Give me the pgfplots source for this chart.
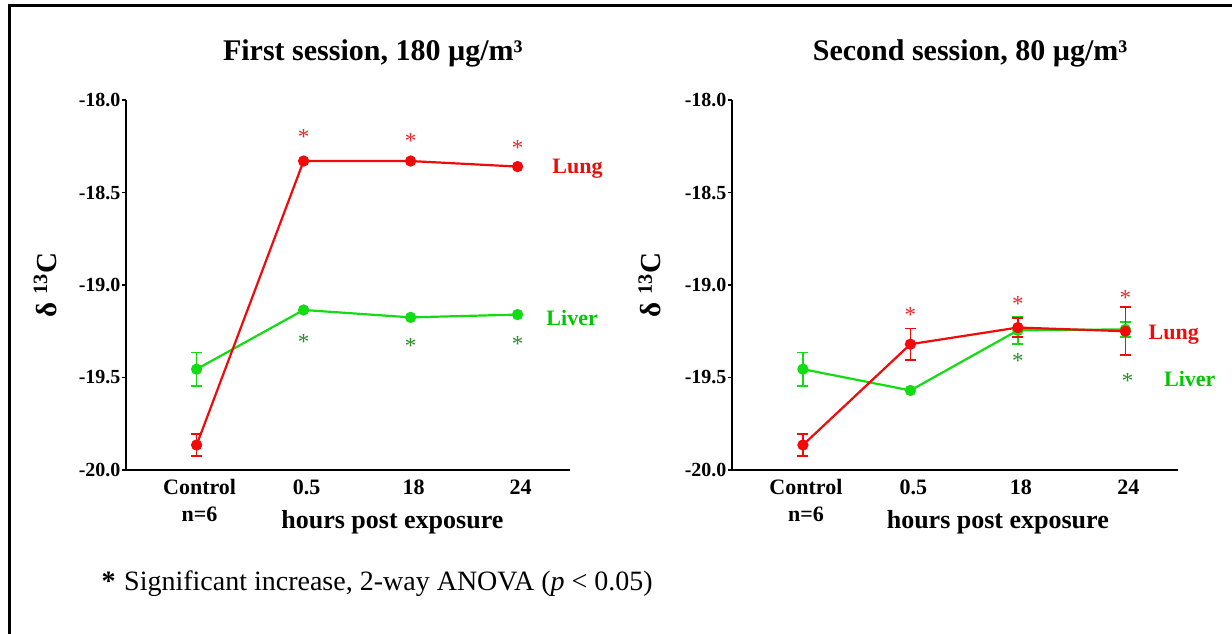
\documentclass[border=0pt]{standalone}
\usepackage{pgfplots}
\pgfplotsset{compat=1.18}
\usepackage{fontspec}
\setmainfont{Liberation Serif}
\definecolor{lungred}{RGB}{240,10,10}
\definecolor{livergreen}{RGB}{20,220,20}
\definecolor{liverlab}{RGB}{0,200,0}
\definecolor{starred}{RGB}{235,40,40}
\definecolor{stargreen}{RGB}{40,140,40}
\newcommand\fs[1]{\fontsize{#1}{1.2\dimexpr#1pt\relax}\selectfont}
\tikzset{sig/.style={font=\fs{23}}}
\pgfplotsset{
  panel/.style={
    scale only axis, height=370pt,
    ymin=-20, ymax=-18, xmin=-0.66, xmax=3.49,
    axis x line*=bottom, axis y line*=left,
    axis line style={line width=1.6pt, -},
    ytick={-20,-19.5,-19,-18.5,-18},
    yticklabels={-20.0,-19.5,-19.0,-18.5,-18.0},
    yticklabel style={font=\bfseries\fs{20}, xshift=2pt},
    xtick={0,1,2,3},
    xticklabels={{Control\\n=6},0.5,18,24},
    xticklabel style={font=\bfseries\fontsize{22}{27}\selectfont, align=center, xshift=3pt, yshift=-2pt},
    x tick style={draw=none},
    y tick style={line width=1.2pt, black},
    tick align=outside, major tick length=4pt,
    clip=false,
    every axis plot/.append style={line width=2.2pt, mark=*, mark size=4.5pt},
    error bars/y dir=both, error bars/y explicit,
    error bars/error mark options={rotate=90, mark size=5.5pt, line width=1.6pt},
  },
  lung/.style={color=lungred, mark options={fill=lungred, draw=lungred},
    error bars/error bar style={line width=1.6pt, color=lungred}},
  liver/.style={color=livergreen, mark options={fill=livergreen, draw=livergreen},
    error bars/error bar style={line width=1.6pt, color=livergreen}},
}
\begin{document}
\begin{tikzpicture}
\path[use as bounding box] (0,0) rectangle (1232pt,634pt);
\draw[line width=3pt] (9pt,0) -- (9pt,628pt) -- (1232pt,628pt);

% first session
\begin{axis}[panel, width=444pt, at={(126pt,164pt)}, anchor=south west]
\addplot[liver] coordinates {(0,-19.455) +- (0,0.09) (1,-19.135) +- (0,0) (2,-19.175) +- (0,0) (3,-19.16) +- (0,0)};
\addplot[lung] coordinates {(0,-19.865) +- (0,0.06) (1,-18.33) +- (0,0) (2,-18.33) +- (0,0) (3,-18.36) +- (0,0)};
\node[starred, sig] at (axis cs:1,-18.20) {*};
\node[starred, sig] at (axis cs:2,-18.22) {*};
\node[starred, sig] at (axis cs:3,-18.26) {*};
\node[stargreen, sig] at (axis cs:1,-19.31) {*};
\node[stargreen, sig] at (axis cs:2,-19.33) {*};
\node[stargreen, sig] at (axis cs:3,-19.32) {*};
\node[lungred, font=\bfseries\fs{22}] at (axis cs:3.56,-18.37) {Lung};
\node[liverlab, font=\bfseries\fs{22}] at (axis cs:3.51,-19.18) {Liver};
\node[font=\bfseries\fs{26}] at (rel axis cs:0.6,0) [yshift=-52pt] {hours post exposure};
\node[font=\bfseries\fs{30}] at (rel axis cs:0.556,1) [yshift=47pt] {First session, 180 µg/m³};
\node[font=\bfseries\fs{29}, rotate=90] at (rel axis cs:-0.182,0.5) {δ \textsuperscript{13}C};
\end{axis}

% second session
\begin{axis}[panel, width=446pt, at={(732pt,164pt)}, anchor=south west]
\addplot[liver] coordinates {(0,-19.455) +- (0,0.09) (1,-19.57) +- (0,0) (2,-19.245) +- (0,0.075) (3,-19.24) +- (0,0.04)};
\addplot[lung] coordinates {(0,-19.865) +- (0,0.06) (1,-19.32) +- (0,0.085) (2,-19.23) +- (0,0.05) (3,-19.25) +- (0,0.13)};
\node[starred, sig] at (axis cs:1,-19.16) {*};
\node[starred, sig] at (axis cs:2,-19.10) {*};
\node[starred, sig] at (axis cs:3,-19.07) {*};
\node[stargreen, sig] at (axis cs:2,-19.41) {*};
\node[stargreen, sig] at (axis cs:3.02,-19.52) {*};
\node[lungred, font=\bfseries\fs{22}] at (axis cs:3.45,-19.27) {Lung};
\node[liverlab, font=\bfseries\fs{22}] at (axis cs:3.6,-19.51) {Liver};
\node[font=\bfseries\fs{26}] at (rel axis cs:0.596,0) [yshift=-52pt] {hours post exposure};
\node[font=\bfseries\fs{30}] at (rel axis cs:0.534,1) [yshift=47pt] {Second session, 80 µg/m³};
\node[font=\bfseries\fs{29}, rotate=90] at (rel axis cs:-0.184,0.5) {δ \textsuperscript{13}C};
\end{axis}

\node[anchor=base west, font=\bfseries\fs{28}] at (98pt,43pt) {*};
\node[anchor=base west, font=\fs{28}, inner sep=0pt] at (124pt,43pt) {Significant increase, 2-way ANOVA (\textit{p} < 0.05)};
\end{tikzpicture}
\end{document}
